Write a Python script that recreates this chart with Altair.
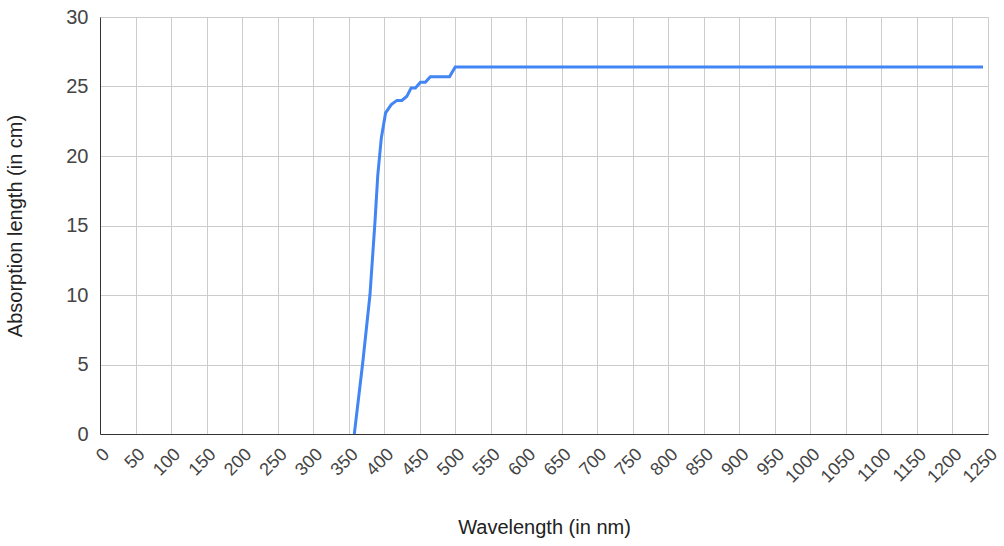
import altair as alt
import pandas as pd

wavelength = [358, 370, 380, 387, 391, 396, 402, 410, 418, 425, 432, 438, 444, 451, 458, 465, 492, 500, 1243]
absorption = [0, 5.2, 10, 15.2, 18.6, 21.3, 23.1, 23.7, 24.0, 24.0, 24.3, 24.9, 24.9, 25.3, 25.3, 25.7, 25.7, 26.4, 26.4]
x_ticks = list(range(0, 1251, 50))
y_ticks = [0, 5, 10, 15, 20, 25, 30]

df = pd.DataFrame({"wavelength": wavelength, "absorption": absorption})

FONT = "Liberation Sans"

chart = alt.Chart(df).mark_line(color="#4285F4", strokeWidth=3, clip=True).encode(
    x=alt.X("wavelength:Q",
            scale=alt.Scale(domain=[0, 1250], nice=False, zero=False),
            axis=alt.Axis(values=x_ticks, format="d", title="Wavelength (in nm)", labelAngle=-45,
                          labelAlign="right", labelBaseline="top", labelFontSize=18,
                          labelPadding=11, titlePadding=31, titleFontSize=20,
                          labelOverlap=False, labelFlush=False)),
    y=alt.Y("absorption:Q",
            scale=alt.Scale(domain=[0, 30], nice=False),
            axis=alt.Axis(values=y_ticks, title="Absorption length (in cm)",
                          labelFontSize=20, labelPadding=12, titlePadding=40, titleFontSize=20)),
).properties(
    width=888, height=417,
    autosize=alt.AutoSizeParams(type="none"),
    padding={"left": 100, "top": 17, "right": 16, "bottom": 112},
).configure_axis(
    gridColor="#cccccc", gridWidth=1, ticks=False,
    domainColor="#333333", domainWidth=1,
    labelColor="#444444", titleColor="#222222",
    labelFont=FONT, titleFont=FONT, titleFontWeight="normal",
).configure_view(stroke=None)

chart.save("out.html", embed_options={"renderer": "svg", "actions": False})
